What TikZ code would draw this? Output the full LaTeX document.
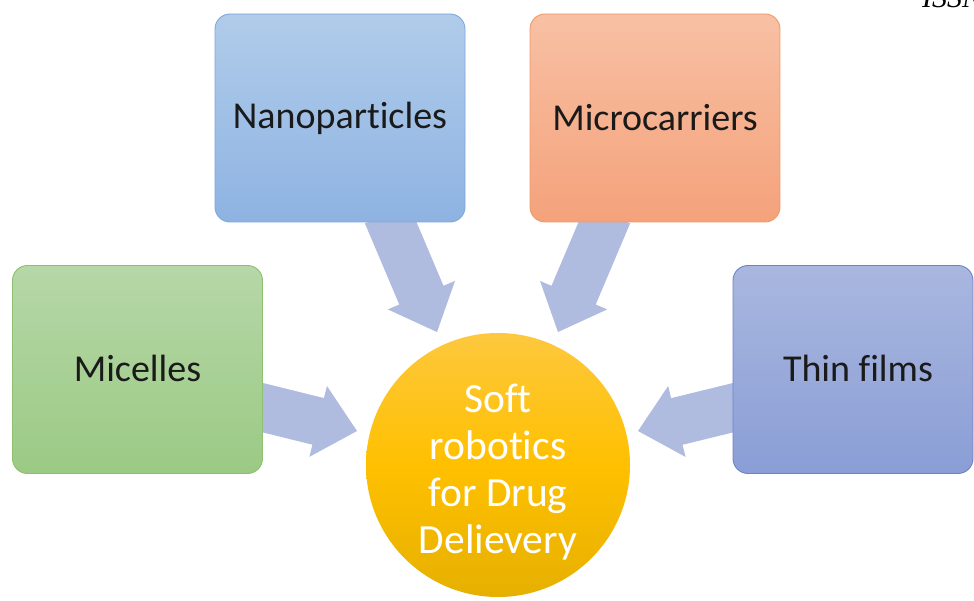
\documentclass[tikz,border=0pt]{standalone}
\usepackage{fontspec}
\setmainfont{Carlito}[RawFeature={-liga;-clig;-calt;-dlig}]
\newfontfamily\issnfont{Liberation Serif}
\usetikzlibrary{calc}
\definecolor{arrowc}{HTML}{AFBCE0}
\definecolor{txt}{HTML}{1A1A1A}
\definecolor{nanoT}{HTML}{B1CCEA}
\definecolor{nanoB}{HTML}{8EB3E2}
\definecolor{nanoD}{HTML}{7DA7DB}
\definecolor{microT}{HTML}{F8C0A4}
\definecolor{microB}{HTML}{F4A27B}
\definecolor{microD}{HTML}{F29866}
\definecolor{micT}{HTML}{B6D7A8}
\definecolor{micB}{HTML}{9BCA84}
\definecolor{micD}{HTML}{8DC070}
\definecolor{thinT}{HTML}{A9B7DF}
\definecolor{thinB}{HTML}{8A9ED6}
\definecolor{thinD}{HTML}{6A84C8}
\definecolor{softT}{HTML}{FDC83E}
\definecolor{softM}{HTML}{FFC000}
\definecolor{softB}{HTML}{E6B000}
\newcommand\blockarrow[2]{%
  \coordinate (#1-h) at ($(#2)!40pt!(#1)$);
  \fill[arrowfill] ($(#1)!24pt!90:(#2)$) -- ($(#1-h)!24pt!-90:(#1)$) -- ($(#1-h)!36.5pt!-90:(#1)$) -- (#2)
     -- ($(#1-h)!36.5pt!90:(#1)$) -- ($(#1-h)!24pt!90:(#1)$) -- ($(#1)!24pt!-90:(#2)$) -- cycle;}
\tikzset{
  arrowfill/.style={fill=arrowc},
  box/.style={rounded corners=15pt, minimum width=250pt, minimum height=208pt, inner sep=0pt,
    line width=0.9pt, text=txt, font=\fontsize{38}{44}\selectfont},
  softtext/.style={text=white, align=center, inner sep=0pt, font=\fontsize{41.5}{47}\selectfont},
}
\begin{document}
\begin{tikzpicture}[x=1pt,y=-1pt]
\clip (0,0) rectangle (974,601);
\fill[white] (0,0) rectangle (974,601);
% arrow anchors
\coordinate (a1) at (387,214);
\coordinate (t1) at (437,332);
\coordinate (a2) at (608,214);
\coordinate (t2) at (558,332);
\coordinate (a3) at (254,405.5);
\coordinate (t3) at (357,431);
\coordinate (a4) at (742,405.5);
\coordinate (t4) at (638,431);
\blockarrow{a1}{t1}
\blockarrow{a2}{t2}
\blockarrow{a3}{t3}
\blockarrow{a4}{t4}
% boxes
\node[box, top color=nanoT, bottom color=nanoB, draw=nanoD] (nano) at (340,118) {\raisebox{1.5pt}{Nanoparticles}};
\node[box, top color=microT, bottom color=microB, draw=microD] (micro) at (655,118) {\raisebox{1.5pt}{Microcarriers}};
\node[box, top color=micT, bottom color=micB, draw=micD] (mic) at (137.5,369.5) {\raisebox{1.5pt}{Micelles}};
\node[box, top color=thinT, bottom color=thinB, draw=thinD, minimum width=240pt] (thin) at (853,369.5) {\hspace*{10pt}\raisebox{1.5pt}{Thin films}};
% centre
\node[circle, minimum size=264pt, inner sep=0pt, top color=softT, bottom color=softB, middle color=softM] (soft) at (498,465) {};
\node[softtext] (softlabel) at (498,472) {Soft\\robotics\\for Drug\\Delievery};
% running head fragment
\node[anchor=base west, inner sep=0pt, font=\issnfont\itshape\fontsize{30}{30}\selectfont] (issn) at (922,8) {ISSN};
\end{tikzpicture}
\end{document}
